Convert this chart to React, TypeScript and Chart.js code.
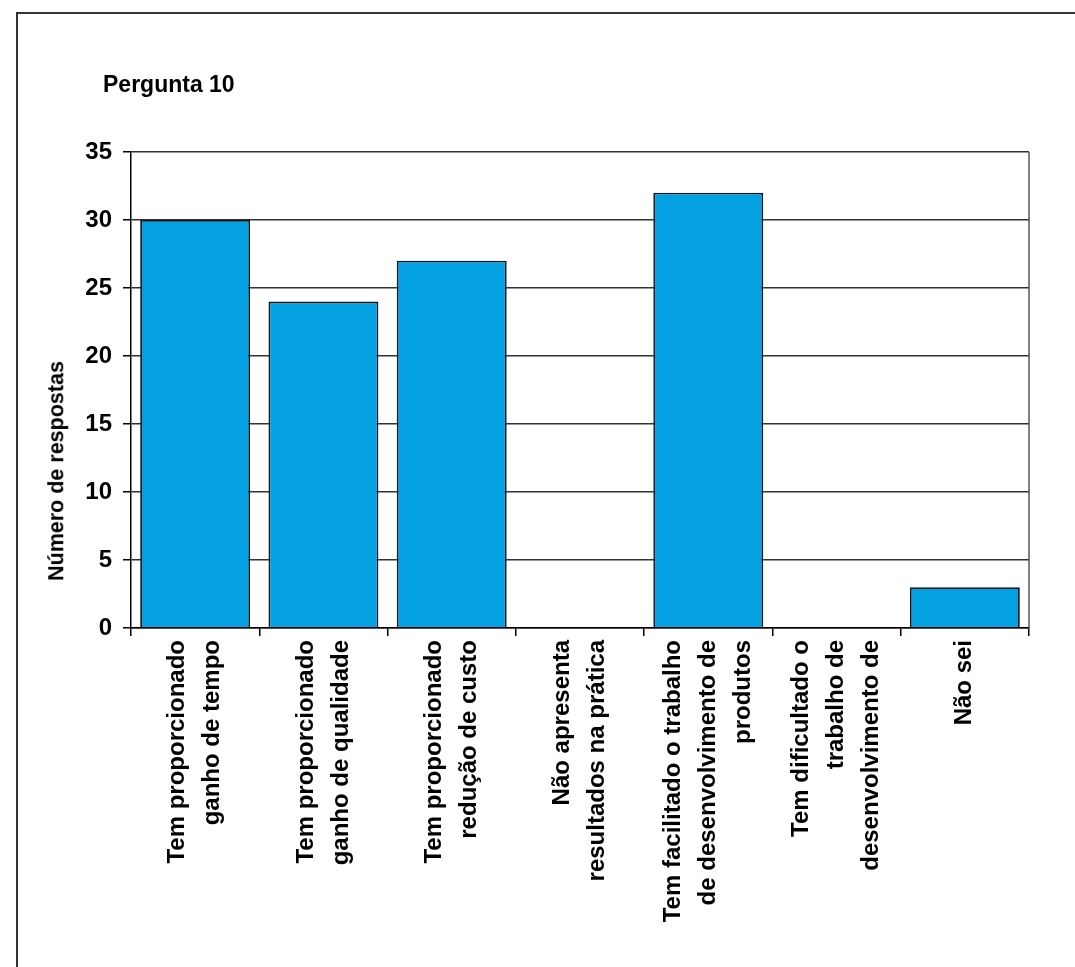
import React, { useEffect, useRef } from "react";
import { Chart, registerables } from "chart.js";

Chart.register(...registerables);

const titleText = "Pergunta 10";
const yAxisTitle = "Número de respostas";
const categories: string[][] = [
  ["Tem proporcionado", "ganho de tempo"],
  ["Tem proporcionado", "ganho de qualidade"],
  ["Tem proporcionado", "redução de custo"],
  ["Não apresenta", "resultados na prática"],
  ["Tem facilitado o trabalho", "de desenvolvimento de", "produtos"],
  ["Tem dificultado o", "trabalho de", "desenvolvimento de"],
  ["Não sei"],
];
const values: number[] = [30, 24, 27, 0, 32, 0, 3];
const yMin = 0;
const yMax = 35;
const yStep = 5;

const FONT = '"Liberation Sans", Arial, sans-serif';
const LABEL_SIZE = 24;
const LABEL_LINE = 35;

const frameAndLabels = {
  id: "frameAndLabels",
  beforeDatasetsDraw(chart: any) {
    const { ctx, chartArea } = chart;
    ctx.save();
    ctx.strokeStyle = "#555";
    ctx.lineWidth = 1.5;
    ctx.beginPath();
    ctx.moveTo(chartArea.right, chartArea.top);
    ctx.lineTo(chartArea.right, chartArea.bottom);
    ctx.stroke();
    ctx.restore();
  },
  afterDraw(chart: any) {
    const { ctx } = chart;
    const xs = chart.scales.x;
    const labels = chart.data.labels as any[];
    ctx.save();
    ctx.font = `bold ${LABEL_SIZE}px ${FONT}`;
    ctx.fillStyle = "#000";
    ctx.textAlign = "right";
    ctx.textBaseline = "middle";
    labels.forEach((lab, i) => {
      const lines: string[] = Array.isArray(lab) ? lab : [lab];
      const cx = xs.getPixelForValue(i);
      const y0 = xs.top + 8 + 4;
      lines.forEach((ln, j) => {
        const x = cx + (j - (lines.length - 1) / 2) * LABEL_LINE;
        ctx.save();
        ctx.translate(x, y0);
        ctx.rotate(-Math.PI / 2);
        ctx.fillText(ln, 0, 0);
        ctx.restore();
      });
    });
    ctx.restore();
  },
};

export default function App() {
  const canvasRef = useRef<HTMLCanvasElement | null>(null);

  useEffect(() => {
    if (!canvasRef.current) return;
    const chart = new Chart(canvasRef.current, {
      type: "bar",
      data: {
        labels: categories,
        datasets: [
          {
            data: values,
            backgroundColor: "#03a0e2",
            borderColor: "#101820",
            borderWidth: 1.8,
            barPercentage: 0.857,
            categoryPercentage: 1,
          },
        ],
      },
      options: {
        animation: false,
        responsive: false,
        maintainAspectRatio: false,
        layout: { padding: { left: 0, top: 152, right: 46, bottom: 39 } },
        plugins: {
          legend: { display: false },
          tooltip: { enabled: false },
          title: { display: false },
        },
        scales: {
          x: {
            afterFit: (s: any) => {
              s.height = 300;
            },
            grid: {
              offset: true,
              drawOnChartArea: false,
              drawTicks: true,
              tickLength: 8,
              tickColor: "#000",
              lineWidth: 1.5,
            },
            border: { display: true, color: "#000", width: 1.5 },
            ticks: { display: false },
          },
          y: {
            min: yMin,
            max: yMax,
            afterFit: (s: any) => {
              s.width = 131;
            },
            grid: {
              color: "#333",
              lineWidth: 1.5,
              tickLength: 8,
              tickColor: "#000",
            },
            border: { display: true, color: "#000", width: 1.5 },
            ticks: {
              stepSize: yStep,
              padding: 11,
              color: "#000",
              font: { family: FONT, size: 24, weight: "bold" },
            },
          },
        },
      },
      plugins: [frameAndLabels],
    });
    return () => chart.destroy();
  }, []);

  return (
    <div
      style={{
        position: "absolute",
        left: 0,
        top: 0,
        width: 1075,
        height: 967,
        background: "#fff",
        overflow: "hidden",
        fontFamily: FONT,
      }}
    >
      <div
        style={{
          position: "absolute",
          left: 16,
          top: 12,
          width: 1059,
          height: 955,
          borderTop: "2px solid #333",
          borderLeft: "2px solid #333",
          boxSizing: "border-box",
        }}
      />
      <canvas
        ref={canvasRef}
        width={1075}
        height={967}
        style={{ position: "absolute", left: 0, top: 0, width: 1075, height: 967 }}
      />
      <div
        style={{
          position: "absolute",
          left: 103,
          top: 73,
          fontSize: 23,
          lineHeight: 1,
          fontWeight: "bold",
          color: "#000",
          whiteSpace: "nowrap",
        }}
      >
        {titleText}
      </div>
      <div
        style={{
          position: "absolute",
          left: 57,
          top: 471,
          fontSize: 21.5,
          lineHeight: 1,
          fontWeight: "bold",
          color: "#000",
          whiteSpace: "nowrap",
          transform: "translate(-50%, -50%) rotate(-90deg)",
        }}
      >
        {yAxisTitle}
      </div>
    </div>
  );
}
